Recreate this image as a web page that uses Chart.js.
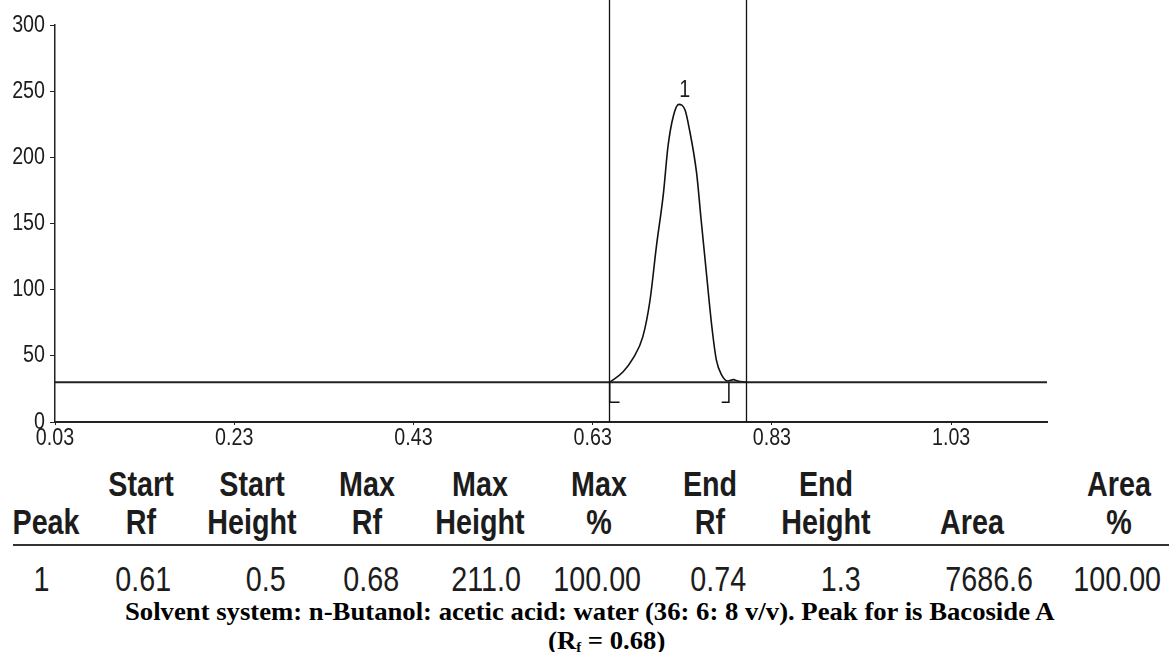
<!DOCTYPE html>
<html>
<head>
<meta charset="utf-8">
<script src="https://cdn.jsdelivr.net/npm/chart.js@4.4.0/dist/chart.umd.min.js"></script>
<style>
body { margin: 0; background: #fff; }
#page { position: relative; width: 1169px; height: 652px; overflow: hidden;
        font-family: "Liberation Sans", Arial, sans-serif; color: #1c1c1c; }
#chart { position: absolute; left: 0; top: 0; }
.cell { position: absolute; font-size: 35px; line-height: 1; white-space: nowrap; }
.hd { font-weight: bold; transform: translateX(-50%) scaleX(0.82); }
.val { transform-origin: 100% 0; transform: scaleX(0.82); }
#rule { position: absolute; left: 13px; top: 544px; width: 1156px; height: 2px; background: #333; }
.cap { position: absolute; font-family: "Liberation Serif", "Times New Roman", serif; font-weight: bold;
       font-size: 25px; line-height: 1; white-space: nowrap; color: #000; transform-origin: 0 0; }
.cap sub { font-size: 14px; vertical-align: -3px; }
</style>
</head>
<body>
<div id="page">
  <canvas id="chart" width="1169" height="460"></canvas>
  <div id="table"></div>
  <div id="rule"></div>
  <div class="cap" id="cap1">Solvent system: n-Butanol: acetic acid: water (36: 6: 8 v/v). Peak for is Bacoside A</div>
  <div class="cap" id="cap2">(R<sub>f</sub> = 0.68)</div>
</div>
<script>
// axis ticks
const rfTicks = [0.03, 0.23, 0.43, 0.63, 0.83, 1.03];
const heightTicks = [0, 50, 100, 150, 200, 250, 300];
const rfMin = 0.03, rfMax = 1.137;

// densitogram trace
const peakRf =     [0.649, 0.664, 0.675, 0.686, 0.694, 0.701, 0.709, 0.714, 0.720, 0.726, 0.733, 0.738, 0.746, 0.751, 0.757, 0.763, 0.768, 0.774, 0.781, 0.787, 0.792, 0.801];
const peakHeight = [30,    38,    48,    64.5,  92,    132,   173,   208,   231,   240,   236,   221,   188,   153,   112,   72,    47,    35.5,  31,    32,    31,    30];
const peakLabel = '1';
const baselineHeight = 30;

// integration markers
const markerRf = [0.648, 0.801];
const startBracketRf = [0.649, 0.649, 0.660];
const startBracketH = [30, 15, 15];
const endBracketRf = [0.774, 0.782, 0.782];
const endBracketH = [15, 15, 30];

// peak table
const headRow1 = ['', 'Start', 'Start', 'Max', 'Max', 'Max', 'End', 'End', '', 'Area'];
const headRow2 = ['Peak', 'Rf', 'Height', 'Rf', 'Height', '%', 'Rf', 'Height', 'Area', '%'];
const peakRow = ['1', '0.61', '0.5', '0.68', '211.0', '100.00', '0.74', '1.3', '7686.6', '100.00'];
const headCenters = [46, 141, 252, 367, 480, 599, 710, 826, 972, 1119];
const valueRights = [49, 171, 286, 399, 521, 641, 746, 861, 1033, 1161];

const narrow = 0.82;   // the figure uses a condensed sans

function pts(xs, ys) {
    return xs.map((x, i) => ({ x: x, y: ys[i] }));
}

function drawSqueezed(ctx, text, x, y, align) {
    ctx.save();
    ctx.translate(x, y);
    ctx.scale(narrow, 1);
    ctx.textAlign = align;
    ctx.fillText(text, 0, 0);
    ctx.restore();
}

const labelPlugin = {
    id: 'labels',
    afterDraw(chart) {
        const ctx = chart.ctx;
        const xs = chart.scales.x, ys = chart.scales.y;
        ctx.save();
        ctx.strokeStyle = '#111';
        ctx.lineWidth = 1.3;
        markerRf.forEach(function(rf) {
            const px = Math.round(xs.getPixelForValue(rf)) + 0.5;
            ctx.beginPath();
            ctx.moveTo(px, 0);
            ctx.lineTo(px, chart.chartArea.bottom);
            ctx.stroke();
        });

        ctx.fillStyle = '#1c1c1c';
        ctx.font = '24px "Liberation Sans", Arial, sans-serif';
        ctx.textBaseline = 'middle';
        rfTicks.forEach(function(v) {
            drawSqueezed(ctx, v.toFixed(2), xs.getPixelForValue(v), xs.top + 16.5, 'center');
        });
        heightTicks.forEach(function(v) {
            drawSqueezed(ctx, String(v), ys.right - 10, ys.getPixelForValue(v), 'right');
        });

        const top = peakHeight.indexOf(Math.max.apply(null, peakHeight));
        ctx.textBaseline = 'alphabetic';
        drawSqueezed(ctx, peakLabel, xs.getPixelForValue(peakRf[top]) + 6, ys.getPixelForValue(peakHeight[top]) - 7, 'center');
        ctx.restore();
    }
};

const ctx = document.getElementById('chart').getContext('2d');
new Chart(ctx, {
    type: 'scatter',
    data: {
        datasets: [
            { data: pts([rfMin, rfMax], [baselineHeight, baselineHeight]), borderColor: '#222', borderWidth: 2 },
            { data: pts(peakRf, peakHeight), borderColor: '#111', borderWidth: 1.6, cubicInterpolationMode: 'monotone' },
            { data: pts(startBracketRf, startBracketH), borderColor: '#111', borderWidth: 1.5 },
            { data: pts(endBracketRf, endBracketH), borderColor: '#111', borderWidth: 1.5 }
        ]
    },
    options: {
        responsive: false,
        animation: false,
        showLine: true,
        pointRadius: 0,
        pointHoverRadius: 0,
        layout: { padding: { top: 25, right: 122, left: 0, bottom: 0 } },
        plugins: { legend: { display: false }, tooltip: { enabled: false } },
        scales: {
            x: {
                type: 'linear',
                min: rfMin,
                max: rfMax,
                afterBuildTicks: function(scale) {
                    scale.ticks = rfTicks.map(v => ({ value: v }));
                },
                afterFit: function(scale) { scale.height = 38; },
                grid: { drawOnChartArea: false, drawTicks: true, tickLength: 3, color: '#222' },
                border: { display: true, color: '#222', width: 2 },
                ticks: { display: false }
            },
            y: {
                min: 0,
                max: 300,
                afterBuildTicks: function(scale) {
                    scale.ticks = heightTicks.map(v => ({ value: v }));
                },
                afterFit: function(scale) { scale.width = 55; },
                grid: { drawOnChartArea: false, drawTicks: true, tickLength: 5, color: '#222' },
                border: { display: true, color: '#222', width: 1.5 },
                ticks: { display: false }
            }
        }
    },
    plugins: [labelPlugin]
});

// peak table below the trace
const table = document.getElementById('table');
function addCell(text, cls, top) {
    const el = document.createElement('div');
    el.className = 'cell ' + cls;
    el.textContent = text;
    el.style.top = top + 'px';
    table.appendChild(el);
    return el;
}
headRow1.forEach((t, i) => { if (t) addCell(t, 'hd', 466).style.left = headCenters[i] + 'px'; });
headRow2.forEach((t, i) => { addCell(t, 'hd', 504).style.left = headCenters[i] + 'px'; });
peakRow.forEach((t, i) => { addCell(t, 'val', 561).style.right = (1169 - valueRights[i]) + 'px'; });

// caption, squeezed to the width it has in the figure
const cap1 = document.getElementById('cap1');
const cap2 = document.getElementById('cap2');
const squeeze = 930 / cap1.offsetWidth;
cap1.style.left = '125px';
cap1.style.top = '599px';
cap1.style.transform = 'scaleX(' + squeeze + ')';
cap2.style.left = (607 - cap2.offsetWidth * squeeze / 2) + 'px';
cap2.style.top = '628px';
cap2.style.transform = 'scaleX(' + squeeze + ')';
</script>
</body>
</html>
